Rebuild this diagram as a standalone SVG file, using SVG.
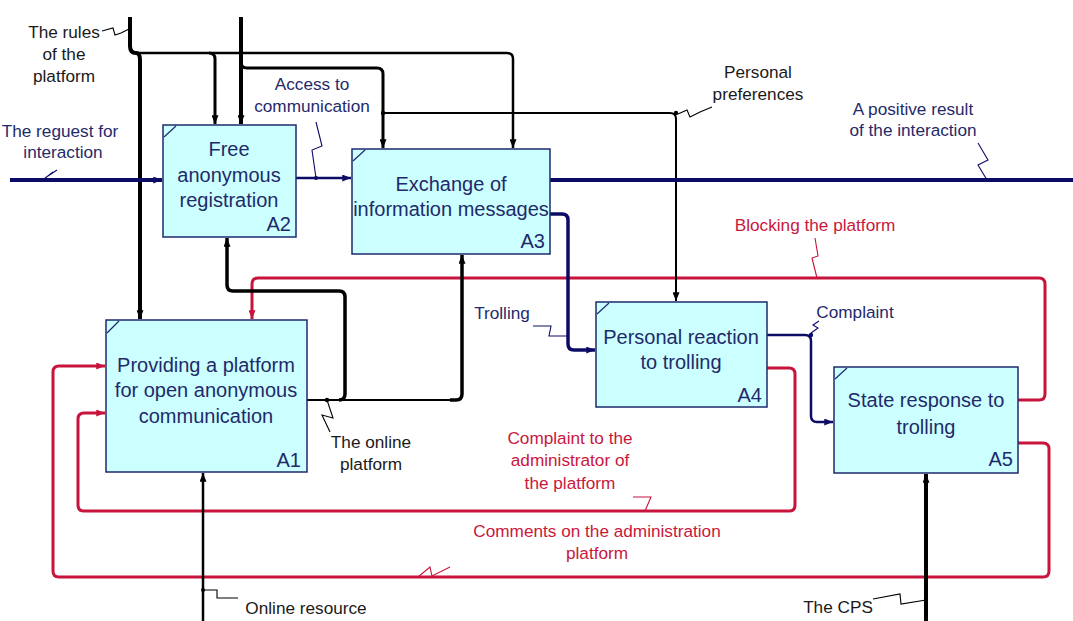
<svg xmlns="http://www.w3.org/2000/svg" width="1073" height="621" viewBox="0 0 1073 621">
<defs>
<style>
.box{fill:#ccffff;stroke:#1e2a6e;stroke-width:1.5}
.tick{stroke:#1e2a6e;stroke-width:1.2}
.bt{font-family:"Liberation Sans",Arial,sans-serif;font-size:20px;fill:#1f2a6a;text-anchor:middle}
.bn{font-family:"Liberation Sans",Arial,sans-serif;font-size:20px;fill:#1f2a6a;text-anchor:end}
.lb{font-family:"Liberation Sans",Arial,sans-serif;font-size:17.2px;text-anchor:middle}
.k{fill:#1a1a1a}
.n{fill:#1f2a6a}
.r{fill:#c8183c}
.ck{fill:none;stroke:#000;stroke-linejoin:round}
.cn{fill:none;stroke:#0c0c66;stroke-linejoin:round}
.cr{fill:none;stroke:#c8143c;stroke-linejoin:round}
.sq{fill:none;stroke-width:1.1}
</style>
<marker id="ak" viewBox="0 0 10 8" refX="10" refY="4" markerWidth="9" markerHeight="7" orient="auto" markerUnits="userSpaceOnUse"><path d="M0,0 L10,4 L0,8 z" fill="#000"/></marker>
<marker id="an" viewBox="0 0 10 8" refX="10" refY="4" markerWidth="9" markerHeight="7" orient="auto" markerUnits="userSpaceOnUse"><path d="M0,0 L10,4 L0,8 z" fill="#0c0c66"/></marker>
<marker id="ar" viewBox="0 0 10 8" refX="10" refY="4" markerWidth="9" markerHeight="7" orient="auto" markerUnits="userSpaceOnUse"><path d="M0,0 L10,4 L0,8 z" fill="#c8143c"/></marker>
</defs>
<rect width="1073" height="621" fill="#fff"/>

<g id="connectors">
  <!-- red feedback -->
  <path class="cr" stroke-width="3" d="M1018,400 H1039 Q1045,400 1045,394 V284 Q1045,278 1039,278 H258 Q252,278 252,284 V319" marker-end="url(#ar)"/>
  <path class="cr" stroke-width="3" d="M767,368 H789 Q795,368 795,374 V505 Q795,511 789,511 H84 Q78,511 78,505 V419 Q78,413 84,413 H105" marker-end="url(#ar)"/>
  <path class="cr" stroke-width="3" d="M1018,443 H1043 Q1049,443 1049,449 V571 Q1049,577 1043,577 H59 Q53,577 53,571 V372 Q53,366 59,366 H105" marker-end="url(#ar)"/>

  <!-- black controls -->
  <path class="ck" stroke-width="4" d="M130,17 V46 Q130,53 136,53 Q140,53 140,60 V319" marker-end="url(#ak)"/>
  <path class="ck" stroke-width="2.5" d="M136,53 H507 Q513,53 513,59 V148" marker-end="url(#ak)"/>
  <path class="ck" stroke-width="3" d="M209,53 Q215,53 215,59 V124" marker-end="url(#ak)"/>
  <path class="ck" stroke-width="4" d="M241,17 V124" marker-end="url(#ak)"/>
  <path class="ck" stroke-width="3" d="M241,62 Q241,68 247,68 H377 Q383,68 383,74 V148" marker-end="url(#ak)"/>
  <path class="ck" stroke-width="2" d="M383,113 H670 Q676,113 676,119 V301" marker-end="url(#ak)"/>

  <!-- online platform (A1 output to A2, A3 mechanisms) -->
  <path class="ck" stroke-width="2" d="M307,400 H456"/>
  <path class="ck" stroke-width="3.5" d="M339,400 Q345,400 345,394 V297 Q345,291 339,291 H233 Q227,291 227,285 V238" marker-end="url(#ak)"/>
  <path class="ck" stroke-width="3.5" d="M450,400 H456 Q462,400 462,394 V255" marker-end="url(#ak)"/>

  <!-- mechanisms -->
  <path class="ck" stroke-width="2.5" d="M203,621 V473" marker-end="url(#ak)"/>
  <path class="ck" stroke-width="4" d="M926,621 V474" marker-end="url(#ak)"/>

  <!-- navy flows -->
  <path class="cn" stroke-width="4" d="M10,180 H162" marker-end="url(#an)"/>
  <path class="cn" stroke-width="2.5" d="M296,178 H351" marker-end="url(#an)"/>
  <path class="cn" stroke-width="4" d="M550,180 H1073"/>
  <path class="cn" stroke-width="3.5" d="M550,214 H562 Q568,214 568,220 V344 Q568,350 574,350 H595" marker-end="url(#an)"/>
  <path class="cn" stroke-width="2.5" d="M767,335 H805 Q811,335 811,341 V416 Q811,422 817,422 H833" marker-end="url(#an)"/>

  <!-- junction dots -->
  <g fill="#000">
    <circle cx="327" cy="400" r="2.2"/>
    <circle cx="676" cy="113" r="2.2"/>
    <circle cx="383" cy="113" r="2.2"/>
    <circle cx="203" cy="590" r="2"/>
    <circle cx="926" cy="600" r="2"/>
  </g>
  <g fill="#0c0c66">
    <circle cx="316" cy="178" r="2"/>
    <circle cx="811" cy="335" r="2.2"/>
  </g>

  <!-- label squiggles -->
  <path class="sq" stroke="#000" d="M102,31 L113,28 L115,35 L121,33 L129,29"/>
  <path class="sq" stroke="#0c0c66" d="M44,179 L53,172 L48,176 L57,170"/>
  <path class="sq" stroke="#0c0c66" d="M316,122 L322,146 L312,150 L316,178"/>
  <path class="sq" stroke="#000" d="M678,114 L687,110 L690,117 L700,112 L712,107"/>
  <path class="sq" stroke="#0c0c66" d="M978,143 L988,160 L978,165 L987,180"/>
  <path class="sq" stroke="#c8143c" d="M815,238 L818,256 L812,258 L817,278"/>
  <path class="sq" stroke="#0c0c66" d="M533,326 H551 L549,336 H567"/>
  <path class="sq" stroke="#0c0c66" d="M811,333 L818,328 L813,325 L819,321"/>
  <path class="sq" stroke="#000" d="M327,400 L333,418 L322,415 L330,432"/>
  <path class="sq" stroke="#c8143c" d="M633,497 H651 L645,511"/>
  <path class="sq" stroke="#c8143c" d="M418,577 L430,567 L432,576 L450,567"/>
  <path class="sq" stroke="#000" d="M203,590 H217 V598 H238"/>
  <path class="sq" stroke="#000" d="M873,599 L900,594 L901,604 L926,600"/>
</g>

<g id="A2">
  <rect class="box" x="163" y="125" width="133" height="112"/>
  <line class="tick" x1="164" y1="137" x2="176" y2="126"/>
  <text class="bt" x="229" y="156">Free</text>
  <text class="bt" x="229" y="182">anonymous</text>
  <text class="bt" x="229" y="207">registration</text>
  <text class="bn" x="291" y="231">A2</text>
</g>
<g id="A3">
  <rect class="box" x="352" y="149" width="198" height="105"/>
  <line class="tick" x1="353" y1="161" x2="365" y2="150"/>
  <text class="bt" x="451" y="191">Exchange of</text>
  <text class="bt" x="451" y="216">information messages</text>
  <text class="bn" x="545" y="248">A3</text>
</g>
<g id="A1">
  <rect class="box" x="106" y="320" width="201" height="152"/>
  <line class="tick" x1="107" y1="333" x2="119" y2="321"/>
  <text class="bt" x="206" y="372">Providing a platform</text>
  <text class="bt" x="206" y="397">for open anonymous</text>
  <text class="bt" x="206" y="423">communication</text>
  <text class="bn" x="301" y="467">A1</text>
</g>
<g id="A4">
  <rect class="box" x="596" y="302" width="171" height="105"/>
  <line class="tick" x1="597" y1="314" x2="609" y2="303"/>
  <text class="bt" x="681" y="344">Personal reaction</text>
  <text class="bt" x="681" y="369">to trolling</text>
  <text class="bn" x="762" y="402">A4</text>
</g>
<g id="A5">
  <rect class="box" x="834" y="367" width="184" height="106"/>
  <line class="tick" x1="835" y1="379" x2="847" y2="368"/>
  <text class="bt" x="926" y="407">State response to</text>
  <text class="bt" x="926" y="434">trolling</text>
  <text class="bn" x="1013" y="466">A5</text>
</g>

<g id="labels">
  <text class="lb k" x="64" y="38">The rules</text>
  <text class="lb k" x="64" y="60">of the</text>
  <text class="lb k" x="64" y="82">platform</text>
  <text class="lb n" x="60" y="137">The reguest for</text>
  <text class="lb n" x="63" y="158">interaction</text>
  <text class="lb n" x="312" y="90">Access to</text>
  <text class="lb n" x="312" y="112">communication</text>
  <text class="lb k" x="758" y="78">Personal</text>
  <text class="lb k" x="758" y="100">preferences</text>
  <text class="lb n" x="913" y="115">A positive result</text>
  <text class="lb n" x="913" y="136">of the interaction</text>
  <text class="lb r" x="815" y="231">Blocking the platform</text>
  <text class="lb n" x="502" y="319">Trolling</text>
  <text class="lb n" x="855" y="318">Complaint</text>
  <text class="lb k" x="371" y="448">The online</text>
  <text class="lb k" x="371" y="470">platform</text>
  <text class="lb r" x="570" y="444">Complaint to the</text>
  <text class="lb r" x="570" y="466">administrator of</text>
  <text class="lb r" x="570" y="489">the platform</text>
  <text class="lb r" x="597" y="537">Comments on the administration</text>
  <text class="lb r" x="597" y="559">platform</text>
  <text class="lb k" x="306" y="614">Online resource</text>
  <text class="lb k" x="838" y="613">The CPS</text>
</g>
</svg>
